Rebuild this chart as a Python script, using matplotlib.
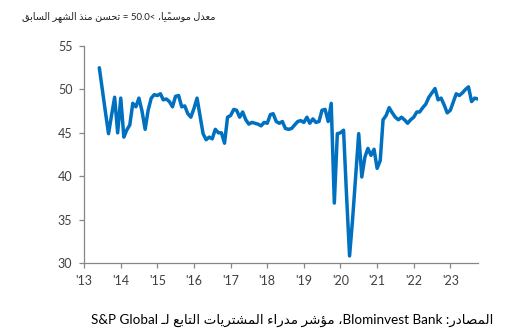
import re
import numpy as np
import pandas as pd
import matplotlib
matplotlib.use("Agg")
import matplotlib.pyplot as plt
import matplotlib.dates as mdates

# Monthly index readings, June 2013 to October 2023
start_month = "2013-06-01"
pmi = [
    52.5, 50.0, 47.4, 44.9, 47.0, 49.1, 45.0, 49.0,
    44.5, 45.3, 45.9, 48.4, 48.0, 49.0, 47.5, 45.4, 47.6, 49.0, 49.4, 49.3,
    49.5, 48.8, 48.9, 48.6, 48.0, 49.2, 49.3, 48.0, 48.1, 47.2, 46.8, 47.8,
    49.0, 47.0, 44.9, 44.2, 44.5, 44.3, 45.4, 45.0, 45.0, 43.8, 46.8, 47.0,
    47.7, 47.6, 46.8, 47.4, 46.5, 46.0, 46.2, 46.1, 46.0, 45.8, 46.2, 46.1,
    47.1, 47.2, 46.3, 46.1, 46.3, 45.5, 45.4, 45.5, 45.9, 46.3, 46.4, 46.2,
    46.8, 46.1, 46.6, 46.2, 46.3, 47.6, 47.7, 46.3, 48.4, 36.9, 44.9, 45.0,
    45.3, 38.0, 30.8, 35.0, 40.0, 44.9, 39.9, 42.2, 43.2, 42.4, 43.1, 40.9,
    41.8, 46.5, 47.0, 47.9, 47.3, 46.8, 46.5, 46.8, 46.5, 46.1, 46.5, 46.8,
    47.4, 47.4, 47.9, 48.3, 49.1, 49.6, 50.1, 48.8, 49.0, 48.2, 47.3, 47.6,
    48.6, 49.5, 49.3, 49.6, 50.0, 50.3, 48.6, 49.0, 48.9,
]
years = list(range(2013, 2024))
y_ticks = [30, 35, 40, 45, 50, 55]

subtitle = "معدل موسميًا، >50.0 = تحسن منذ الشهر السابق"
source = "المصادر: Blominvest Bank، مؤشر مدراء المشتريات التابع لـ S&P Global"

# --- minimal Arabic shaping + right-to-left ordering (matplotlib has no CTL) ---
FORMS = {
    "ء": (0xFE80,), "آ": (0xFE81, 0xFE82), "أ": (0xFE83, 0xFE84),
    "ؤ": (0xFE85, 0xFE86), "إ": (0xFE87, 0xFE88), "ئ": (0xFE89, 0xFE8A, 0xFE8B, 0xFE8C),
    "ا": (0xFE8D, 0xFE8E), "ب": (0xFE8F, 0xFE90, 0xFE91, 0xFE92), "ة": (0xFE93, 0xFE94),
    "ت": (0xFE95, 0xFE96, 0xFE97, 0xFE98), "ث": (0xFE99, 0xFE9A, 0xFE9B, 0xFE9C),
    "ج": (0xFE9D, 0xFE9E, 0xFE9F, 0xFEA0), "ح": (0xFEA1, 0xFEA2, 0xFEA3, 0xFEA4),
    "خ": (0xFEA5, 0xFEA6, 0xFEA7, 0xFEA8), "د": (0xFEA9, 0xFEAA), "ذ": (0xFEAB, 0xFEAC),
    "ر": (0xFEAD, 0xFEAE), "ز": (0xFEAF, 0xFEB0), "س": (0xFEB1, 0xFEB2, 0xFEB3, 0xFEB4),
    "ش": (0xFEB5, 0xFEB6, 0xFEB7, 0xFEB8), "ص": (0xFEB9, 0xFEBA, 0xFEBB, 0xFEBC),
    "ض": (0xFEBD, 0xFEBE, 0xFEBF, 0xFEC0), "ط": (0xFEC1, 0xFEC2, 0xFEC3, 0xFEC4),
    "ظ": (0xFEC5, 0xFEC6, 0xFEC7, 0xFEC8), "ع": (0xFEC9, 0xFECA, 0xFECB, 0xFECC),
    "غ": (0xFECD, 0xFECE, 0xFECF, 0xFED0), "ف": (0xFED1, 0xFED2, 0xFED3, 0xFED4),
    "ق": (0xFED5, 0xFED6, 0xFED7, 0xFED8), "ك": (0xFED9, 0xFEDA, 0xFEDB, 0xFEDC),
    "ل": (0xFEDD, 0xFEDE, 0xFEDF, 0xFEE0), "م": (0xFEE1, 0xFEE2, 0xFEE3, 0xFEE4),
    "ن": (0xFEE5, 0xFEE6, 0xFEE7, 0xFEE8), "ه": (0xFEE9, 0xFEEA, 0xFEEB, 0xFEEC),
    "و": (0xFEED, 0xFEEE), "ى": (0xFEEF, 0xFEF0), "ي": (0xFEF1, 0xFEF2, 0xFEF3, 0xFEF4),
}
TATWEEL = "ـ"
MIRROR = {"<": ">", ">": "<", "(": ")", ")": "("}


def is_mark(ch):
    return "\u064B" <= ch <= "\u0652"


def joins_next(ch):
    return ch == TATWEEL or (ch in FORMS and len(FORMS[ch]) == 4)


def joins_prev(ch):
    return ch == TATWEEL or (ch in FORMS and len(FORMS[ch]) >= 2)


def shape(seg):
    out = []
    for i, ch in enumerate(seg):
        if ch not in FORMS:
            out.append(ch)
            continue
        j = i - 1
        while j >= 0 and is_mark(seg[j]):
            j -= 1
        k = i + 1
        while k < len(seg) and is_mark(seg[k]):
            k += 1
        prev_ok = j >= 0 and joins_next(seg[j]) and joins_prev(ch)
        next_ok = k < len(seg) and joins_next(ch) and joins_prev(seg[k])
        f = FORMS[ch]
        if prev_ok and next_ok:
            idx = 3
        elif next_ok:
            idx = 2
        elif prev_ok:
            idx = 1
        else:
            idx = 0
        out.append(chr(f[idx]))
    return "".join(out)


def rtl(text):
    parts = re.split(r"([A-Za-z0-9&.]+(?: [A-Za-z0-9&.]+)*)", text)
    vis = []
    for p in reversed(parts):
        if not p:
            continue
        if re.fullmatch(r"[A-Za-z0-9&. ]+", p) and re.search(r"[A-Za-z0-9]", p):
            vis.append(p)
            continue
        clusters = []
        for ch in shape(p):
            if is_mark(ch) and clusters:
                clusters[-1] += ch
            else:
                clusters.append(MIRROR.get(ch, ch))
        vis.append("".join(reversed(clusters)))
    return "".join(vis)


# --- chart ---
dates = pd.date_range(start_month, periods=len(pmi), freq="MS")
fonts = ["Lato", "DejaVu Sans"]
blue = "#0070C0"
axis_grey = "#868686"
text_grey = "#404040"

fig = plt.figure(figsize=(5.07, 3.34), dpi=100)
ax = fig.add_axes([0.166, 0.213, 0.777, 0.649])

ax.plot(dates, pmi, color=blue, lw=2.5, solid_joinstyle="round", solid_capstyle="round")

ax.set_ylim(30, 55)
ax.set_yticks(y_ticks)
ax.set_xlim(pd.Timestamp("2013-01-01"), pd.Timestamp("2023-10-05"))
ax.set_xticks([pd.Timestamp(f"{y}-01-01") for y in years])
ax.xaxis.set_major_formatter(mdates.DateFormatter("'%y"))

for side in ["top", "right"]:
    ax.spines[side].set_visible(False)
for side in ["left", "bottom"]:
    ax.spines[side].set_color(axis_grey)
    ax.spines[side].set_linewidth(0.9)

ax.tick_params(axis="both", colors=axis_grey, length=3.5, width=0.9,
               labelcolor=text_grey, labelsize=9)
ax.tick_params(axis="x", pad=5)
ax.tick_params(axis="y", pad=5)
for lbl in ax.get_xticklabels() + ax.get_yticklabels():
    lbl.set_family(fonts)

fig.text(22 / 507, 1 - 17 / 334, rtl(subtitle), family=fonts, fontsize=7,
         color="#222222", ha="left", va="center")
fig.text(493 / 507, 1 - 320 / 334, rtl(source), family=fonts, fontsize=9.7,
         color="black", ha="right", va="center")

fig.savefig("out.png", dpi=100)
